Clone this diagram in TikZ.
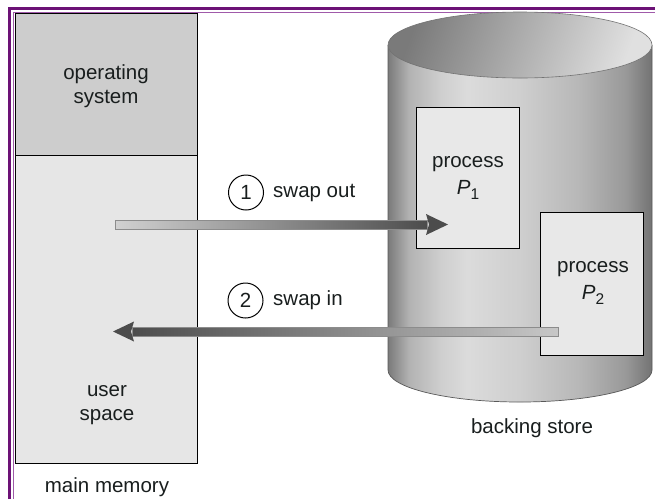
\documentclass[tikz,border=0pt]{standalone}
\usepackage{fontspec}
\setmainfont{Liberation Sans}
\usetikzlibrary{shapes.geometric}
\definecolor{frame}{RGB}{108,18,118}
\definecolor{framelight}{RGB}{160,90,170}
\definecolor{txt}{RGB}{25,30,30}
\definecolor{osfill}{RGB}{205,205,205}
\definecolor{userfill}{RGB}{230,230,230}
\definecolor{procfill}{RGB}{232,232,232}
\pgfdeclarehorizontalshading{cylshade}{100bp}{%
  color(0bp)=(black!52);
  color(25bp)=(black!52);
  color(29bp)=(black!30);
  color(35bp)=(black!19);
  color(40bp)=(black!14);
  color(50bp)=(black!19);
  color(61bp)=(black!28);
  color(70bp)=(black!40);
  color(75bp)=(black!55);
  color(100bp)=(black!55)}
\tikzset{
  lbl/.style={text=txt, font=\fontsize{20.5}{24}\selectfont, align=center, inner sep=0pt},
  boxline/.style={draw=black, line width=0.9pt},
  num/.style={circle, draw=black, line width=1pt, minimum size=35pt, inner sep=0pt, text=txt, font=\fontsize{20.5}{24}\selectfont},
  arrowshaft/.style={draw=black!45, line width=0.6pt},
}
\begin{document}
\begin{tikzpicture}[x=1pt,y=-1pt]
\useasboundingbox (0,0) rectangle (655,499);
\fill[white] (0,0) rectangle (655,499);
% frame
\draw[frame, line width=3pt] (9.5,499) -- (9.5,8.5) -- (655,8.5);
\draw[framelight, line width=1.2pt] (13.6,499) -- (13.6,12.6) -- (655,12.6);
% main memory
\node[boxline, fill=osfill, minimum width=182pt, minimum height=142pt, inner sep=0pt, anchor=north west] (os) at (15,13) {};
\node[boxline, fill=userfill, minimum width=182pt, minimum height=308pt, inner sep=0pt, anchor=north west] (user) at (15,155) {};
\node[lbl] (oslbl) at (106,86) {operating\\system};
\node[lbl] (userlbl) at (107,405) {user\\space};
\node[lbl] (mmlbl) at (107,487) {main memory};
% cylinder body
\path[shading=cylshade] (388,45) -- (388,370) arc[start angle=180, end angle=0, x radius=132, y radius=32] -- (652,45) -- cycle;
\draw[black!65, line width=0.7pt] (388,45) -- (388,370) arc[start angle=180, end angle=0, x radius=132, y radius=32] -- (652,45);
% top ellipse
\path[left color=black!52, right color=black!12, shading angle=70] (520,45) ellipse[x radius=132, y radius=33];
\draw[black!55, line width=0.6pt] (520,45) ellipse[x radius=132, y radius=33];
\node[lbl] (bslbl) at (532,428) {backing store};
% process boxes
\node[boxline, fill=procfill, minimum width=103pt, minimum height=141pt, inner sep=0pt, anchor=north west] (p1) at (416,107) {};
\node[boxline, fill=procfill, minimum width=103pt, minimum height=143pt, inner sep=0pt, anchor=north west] (p2) at (540,212) {};
\node[lbl, font=\fontsize{20.5}{27}\selectfont] (p1lbl) at (468,178) {process\\\textit{P}\raisebox{-0.5ex}{\fontsize{15.5}{15.5}\selectfont 1}};
\node[lbl, font=\fontsize{20.5}{27}\selectfont] (p2lbl) at (593,283) {process\\\textit{P}\raisebox{-0.5ex}{\fontsize{15.5}{15.5}\selectfont 2}};
% labels
\node[num] (c1) at (246,192.5) {1};
\node[lbl, anchor=west] (so) at (273,192.5) {swap out};
\node[num] (c2) at (245.5,300.5) {2};
\node[lbl, anchor=west] (si) at (273,300.5) {swap in};
% swap out arrow
\coordinate (soS) at (115,224.5);
\coordinate (soT) at (448,224.5);
\path[left color=black!18, right color=black!70, arrowshaft] ([yshift=-4.5pt]soS) rectangle ([xshift=-21pt,yshift=4.5pt]soT);
\fill[black!70] ([xshift=-22pt,yshift=-10.5pt]soT) -- (soT) -- ([xshift=-22pt,yshift=10.5pt]soT) -- ([xshift=-19pt]soT) -- cycle;
% swap in arrow
\coordinate (siS) at (558,331.5);
\coordinate (siT) at (113,331.5);
\path[left color=black!70, right color=black!22, arrowshaft] ([xshift=19pt,yshift=-4.5pt]siT) rectangle ([yshift=4.5pt]siS);
\fill[black!70] ([xshift=21pt,yshift=-10pt]siT) -- (siT) -- ([xshift=21pt,yshift=10pt]siT) -- ([xshift=18pt]siT) -- cycle;
\end{tikzpicture}
\end{document}
